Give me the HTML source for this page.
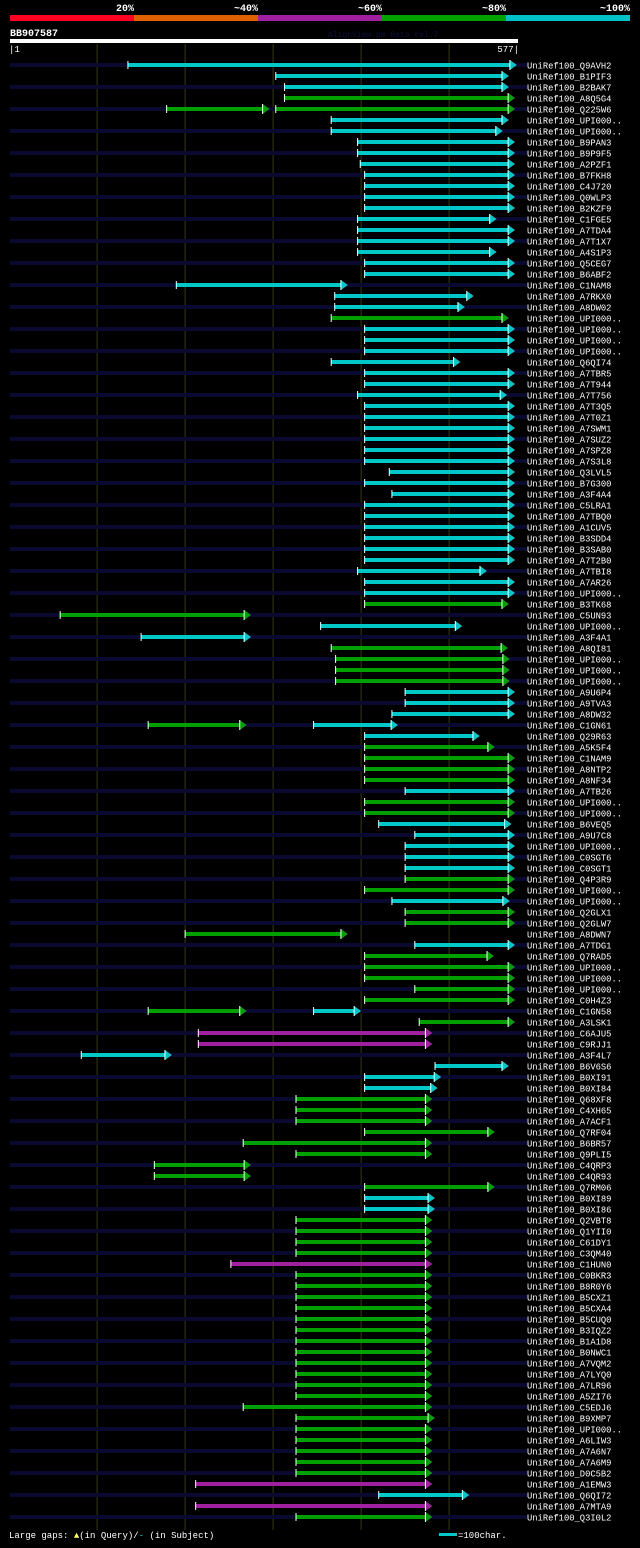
<!DOCTYPE html>
<html><head><meta charset="utf-8"><style>
body{margin:0;background:#000;width:640px;height:1543px;overflow:hidden;font-family:"Liberation Mono",monospace;}
svg text{font-family:"Liberation Mono",monospace;}
</style></head><body>
<svg id="chart" width="640" height="1543" xmlns="http://www.w3.org/2000/svg">
<rect x="0" y="0" width="640" height="1543" fill="#000"/>
<g>
<rect x="10" y="15" width="124" height="6" fill="#ff0022"/>
<rect x="134" y="15" width="124" height="6" fill="#e06000"/>
<rect x="258" y="15" width="124" height="6" fill="#a020a0"/>
<rect x="382" y="15" width="124" height="6" fill="#00a000"/>
<rect x="506" y="15" width="124" height="6" fill="#00c0c8"/>
<g fill="#fff" font-size="10" font-weight="bold" text-anchor="end">
<text x="134" y="11">20%</text><text x="258" y="11">~40%</text><text x="382" y="11">~60%</text><text x="506" y="11">~80%</text><text x="630" y="11">~100%</text>
</g></g>
<text x="10" y="36" fill="#fff" font-size="10" font-weight="bold">BB907587</text>
<text x="328" y="37" fill="#101040" font-size="8">AlignView.pm Beta rel.7</text>
<rect x="10" y="39" width="508" height="4" fill="#fff"/>
<text x="9" y="52" fill="#fff" font-size="9">|1</text>
<text x="519" y="52" fill="#fff" font-size="9" text-anchor="end">577|</text>
<g id="grid"></g>
<g id="rows"></g>
<text x="9" y="1538" fill="#fff" font-size="9">Large gaps:<tspan fill="#ff6"> ▲</tspan>(in Query)/<tspan fill="#0cc">-</tspan> (in Subject)</text>
<rect x="439" y="1533" width="18" height="3" fill="#00c8c8"/>
<text x="458" y="1538" fill="#fff" font-size="9">=100char.</text>
</svg>
<script>
const names=["Q9AVH2","B1PIF3","B2BAK7","A8Q5G4","Q225W6","UPI000..","UPI000..","B9PAN3","B9P9F5","A2PZF1","B7FKH8","C4J720","Q0WLP3","B2KZF9","C1FGE5","A7TDA4","A7T1X7","A4S1P3","Q5CEG7","B6ABF2","C1NAM8","A7RKX0","A8DW02","UPI000..","UPI000..","UPI000..","UPI000..","Q6QI74","A7TBR5","A7T944","A7T756","A7T3Q5","A7T0Z1","A7SWM1","A7SUZ2","A7SPZ8","A7S3L8","Q3LVL5","B7G300","A3F4A4","C5LRA1","A7TBQ0","A1CUV5","B3SDD4","B3SAB0","A7T2B0","A7TBI8","A7AR26","UPI000..","B3TK68","C5UN93","UPI000..","A3F4A1","A8QI81","UPI000..","UPI000..","UPI000..","A9U6P4","A9TVA3","A8DW32","C1GN61","Q29R63","A5K5F4","C1NAM9","A8NTP2","A8NF34","A7TB26","UPI000..","UPI000..","B6VEQ5","A9U7C8","UPI000..","C0SGT6","C0SGT1","Q4P3R9","UPI000..","UPI000..","Q2GLX1","Q2GLW7","A8DWN7","A7TDG1","Q7RAD5","UPI000..","UPI000..","UPI000..","C0H4Z3","C1GN58","A3LSK1","C6AJU5","C9RJJ1","A3F4L7","B6V6S6","B0XI91","B0XI84","Q68XF8","C4XH65","A7ACF1","Q7RF04","B6BR57","Q9PLI5","C4QRP3","C4QR93","Q7RM06","B0XI89","B0XI86","Q2VBT8","Q1YII0","C61DY1","C3QM40","C1HUN0","C0BKR3","B8R0Y6","B5CXZ1","B5CXA4","B5CUQ0","B3IQZ2","B1A1D8","B0NWC1","A7VQM2","A7LYQ0","A7LR96","A5ZI76","C5EDJ6","B9XMP7","UPI000..","A6LIW3","A7A6N7","A7A6M9","D0C5B2","A1EMW3","Q6QI72","A7MTA9","Q3I0L2"];
const colors=("cccggcc"+"cccccccccccccccc"+"g"+"ccccccccccccccccccccccccc"+"gg"+"cc"+"gggg"+"ccccc"+"gggg"+"c"+"gg"+"ccccc"+"gg"+"c"+"ggg"+"c"+"ggggg"+"c"+"g"+"mm"+"cccc"+"ggggggggg"+"cc"+"gggg"+"m"+"ggggggggggggggggggg"+"mcmg").split("");
const qStart=[135,303,313,313,303,366,366,396,396,399,404,404,404,404,396,396,396,396,404,404,190,370,370,366,404,404,404,366,404,404,396,404,404,404,404,404,404,432,404,435,404,404,404,404,404,404,396,404,404,404,58,354,150,366,371,371,371,450,450,435,346,404,404,404,404,404,450,404,404,420,461,450,450,450,450,404,435,450,450,200,461,404,404,404,461,404,346,466,215,215,82,484,404,404,326,326,326,404,266,326,165,165,404,404,404,326,326,326,326,252,326,326,326,326,326,326,326,326,326,326,326,326,266,326,326,326,326,326,326,212,420,212,326];
const qEnd=[577,568,568,575,575,568,561,575,575,575,575,575,575,575,554,575,575,554,575,575,385,528,518,568,575,575,575,513,575,575,566,575,575,575,575,575,575,575,575,575,575,575,575,575,575,575,543,575,575,568,275,515,275,567,569,569,569,575,575,575,442,535,552,575,575,575,575,575,575,571,575,575,575,575,575,575,569,575,575,385,575,551,575,575,575,575,400,575,481,481,185,568,491,487,481,481,481,552,481,481,275,275,552,484,484,481,481,481,481,481,481,481,481,481,481,481,481,481,481,481,481,481,481,484,481,481,481,481,481,481,523,481,481];
// extra segments: row index, color, start, end
const extraRow=[4,60,86];
const extraColor=["g","g","g"];
const extraStart=[179,158,158];
const extraEnd=[296,270,270];
const gridTicks=[100,200,300,400,500];
const COL={c:"#00c8c8",g:"#00a000",m:"#a020a0"};
const NS="http://www.w3.org/2000/svg";
function xs(v){return 10+(v-1)*0.88;}
function ys(i){return 65+i*11;}
function el(t,a,p){const e=document.createElementNS(NS,t);for(const k in a)e.setAttribute(k,a[k]);p.appendChild(e);return e;}
const grid=document.getElementById("grid"),rows=document.getElementById("rows");
gridTicks.forEach(t=>{const l=el("line",{x1:xs(t),x2:xs(t),y1:44,y2:1530,stroke:"#3a3a0c","stroke-width":1},grid);

});
function seg(i,c,s,e,g){const y=ys(i),x1=xs(s),x2=xs(e);
const r=el("rect",{x:x1,y:y-2,width:Math.max(0,x2-x1-6),height:4,fill:COL[c]},g);


el("polygon",{points:`${x2-7},${y-5} ${x2},${y} ${x2-7},${y+5}`,fill:COL[c]},g);
el("line",{x1:x2-7,x2:x2-7,y1:y-5,y2:y+5,stroke:"#fff","stroke-width":1},g);
el("line",{x1:x1,x2:x1,y1:y-4,y2:y+4,stroke:"#fff","stroke-width":1},g);}
names.forEach((n,i)=>{const g=el("g",{},rows);


if(i%2===0)el("rect",{x:10,y:ys(i)-2,width:518,height:4,fill:"#0a0a30"},g);
seg(i,colors[i],qStart[i],qEnd[i],g);
const t=el("text",{x:527,y:ys(i)+3.5,fill:"#fff","font-size":"8.8"},g);t.textContent="UniRef100_"+n;

});
extraRow.forEach((r,k)=>seg(r,extraColor[k],extraStart[k],extraEnd[k],rows));
</script>
</body></html>
